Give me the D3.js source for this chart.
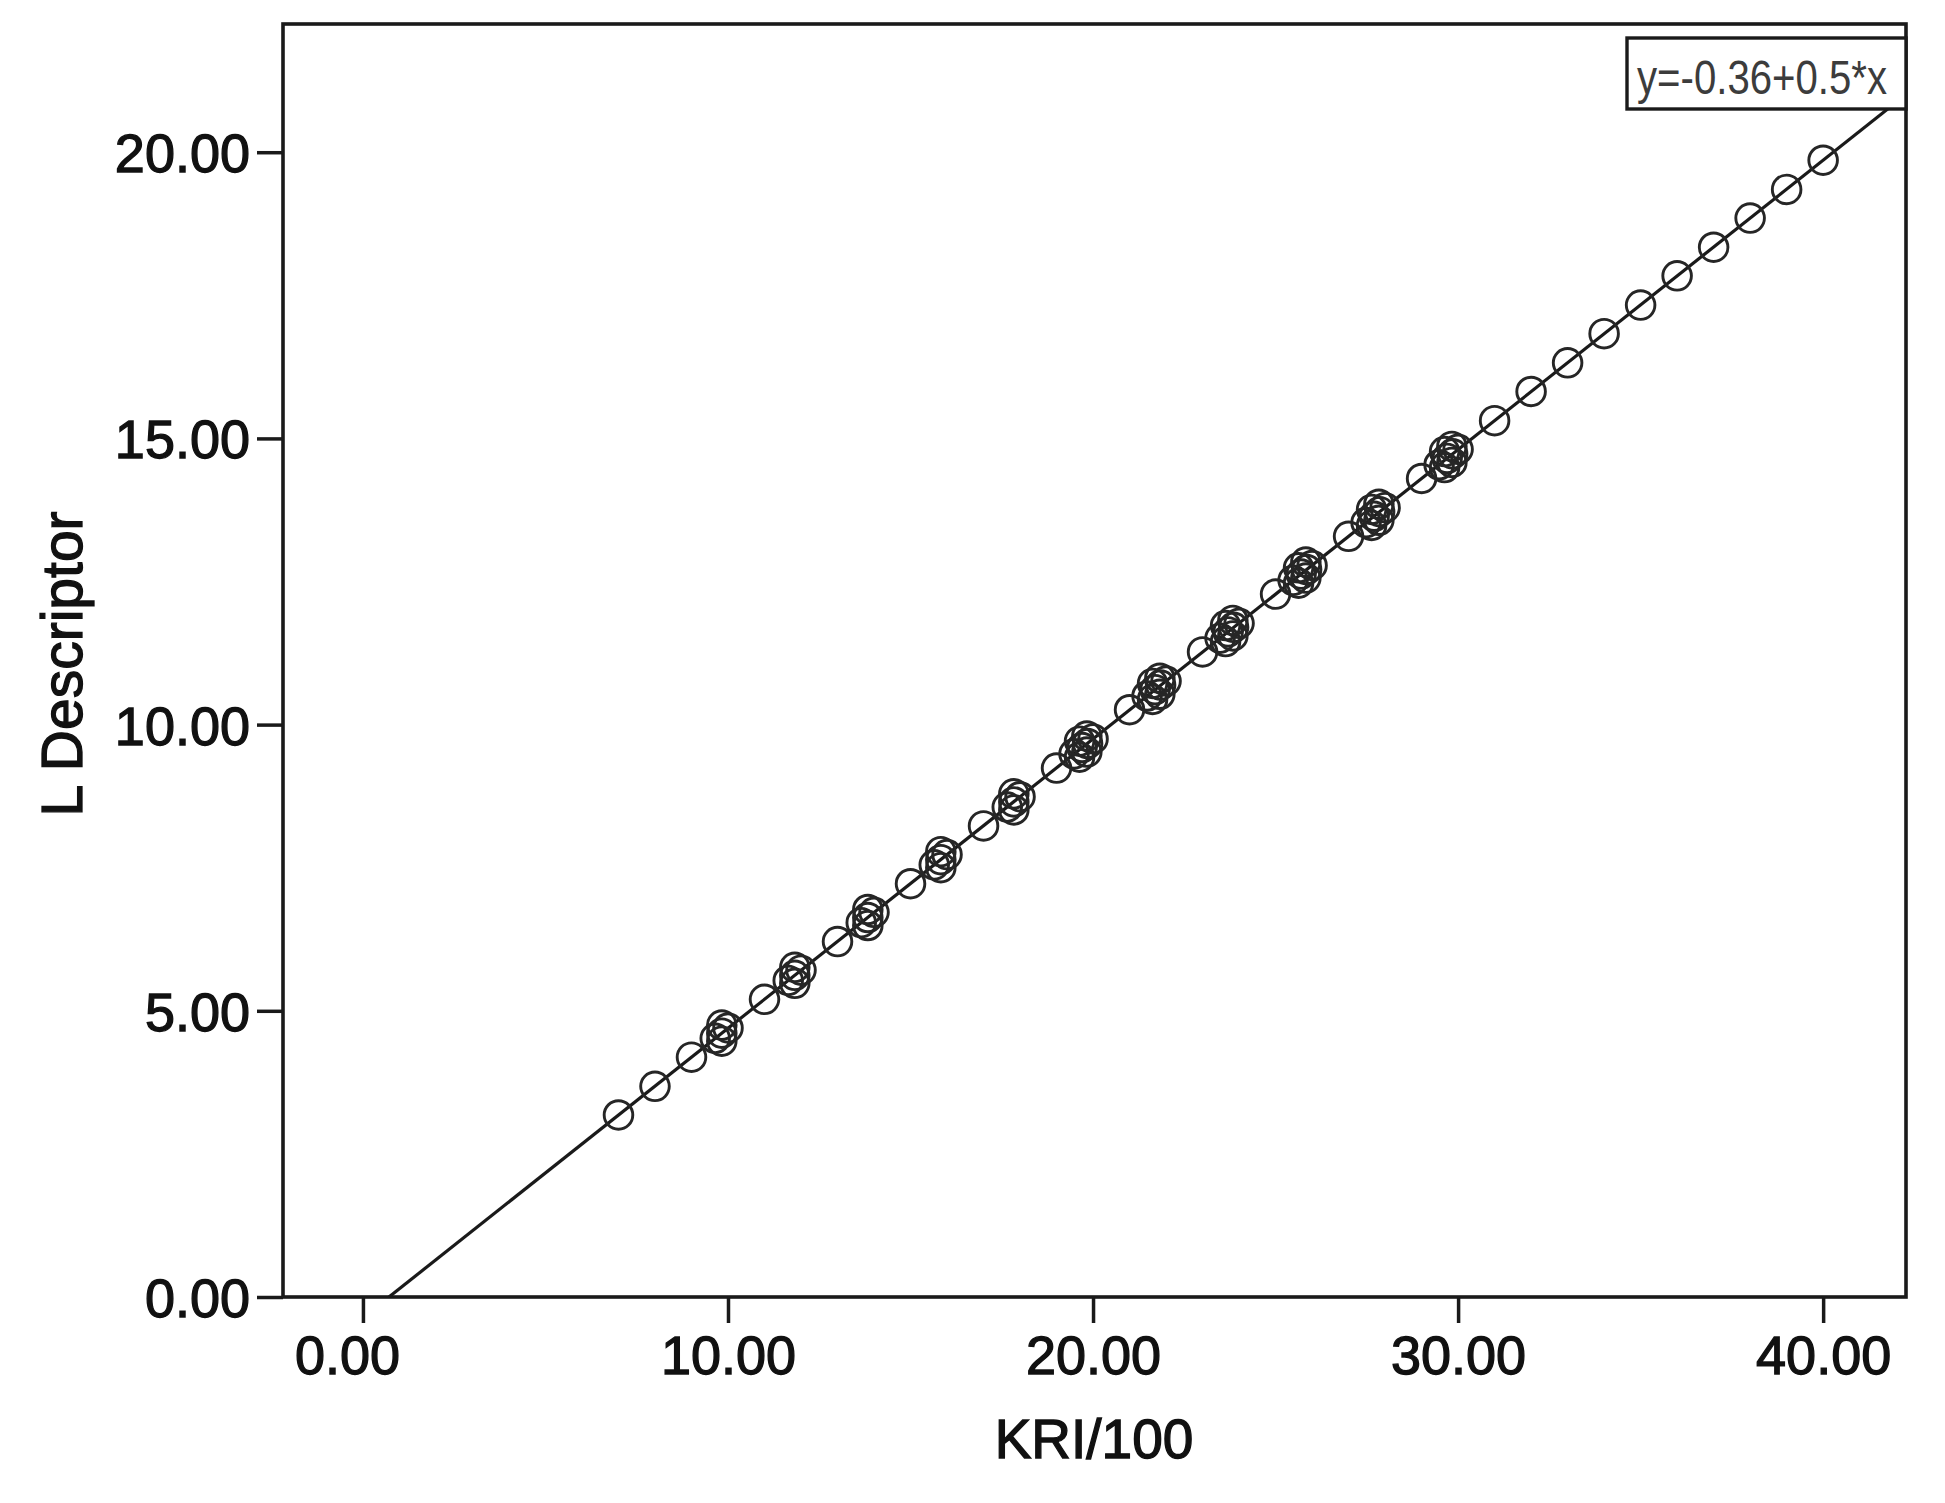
<!DOCTYPE html>
<html>
<head>
<meta charset="utf-8">
<script src="https://cdn.jsdelivr.net/npm/d3@7"></script>
<style>
  html, body { margin: 0; padding: 0; background: #fff; }
  svg { display: block; }
  text { font-family: "Liberation Sans", Arial, sans-serif; }
</style>
</head>
<body>
<script>
// ---------- data ----------
const kri = [
  7.0, 8.0, 9.0,
  9.65, 9.83, 9.83, 9.83, 10.0,
  11.0,
  11.65, 11.83, 11.83, 11.83, 12.0,
  13.0,
  13.65, 13.83, 13.83, 13.83, 14.0,
  15.0,
  15.65, 15.83, 15.83, 15.83, 16.0,
  17.0,
  17.65, 17.83, 17.83, 17.83, 18.0,
  19.0,
  19.48, 19.63, 19.63, 19.7, 19.83, 19.83, 19.85, 20.0,
  21.0,
  21.48, 21.63, 21.63, 21.7, 21.83, 21.83, 21.85, 22.0,
  23.0,
  23.48, 23.63, 23.63, 23.7, 23.83, 23.83, 23.85, 24.0,
  25.0,
  25.48, 25.63, 25.63, 25.7, 25.83, 25.83, 25.85, 26.0,
  27.0,
  27.48, 27.63, 27.63, 27.7, 27.83, 27.83, 27.85, 28.0,
  29.0,
  29.48, 29.63, 29.63, 29.7, 29.83, 29.83, 29.85, 30.0,
  31.0, 32.0, 33.0, 34.0, 35.0, 36.0, 37.0, 38.0, 39.0, 40.0
];
const lDescriptor = [
  3.18, 3.68, 4.19,
  4.52, 4.75, 4.47, 4.61, 4.70,
  5.20,
  5.53, 5.76, 5.48, 5.62, 5.71,
  6.21,
  6.54, 6.77, 6.49, 6.63, 6.72,
  7.22,
  7.55, 7.78, 7.50, 7.64, 7.73,
  8.23,
  8.56, 8.79, 8.51, 8.65, 8.74,
  9.24,
  9.49, 9.71, 9.43, 9.60, 9.80, 9.52, 9.67, 9.75,
  10.26,
  10.50, 10.72, 10.44, 10.61, 10.81, 10.53, 10.69, 10.76,
  11.27,
  11.51, 11.73, 11.45, 11.62, 11.82, 11.55, 11.70, 11.77,
  12.28,
  12.52, 12.74, 12.47, 12.63, 12.84, 12.56, 12.71, 12.78,
  13.29,
  13.53, 13.76, 13.48, 13.64, 13.85, 13.57, 13.72, 13.79,
  14.30,
  14.54, 14.77, 14.49, 14.65, 14.86, 14.58, 14.73, 14.81,
  15.31, 15.82, 16.32, 16.83, 17.33, 17.84, 18.34, 18.85, 19.35, 19.86
];
const xTicks = [0, 10, 20, 30, 40];
const yTicks = [0, 5, 10, 15, 20];
const xTitle = "KRI/100";
const yTitle = "L Descriptor";
// fit line coefficients (label is rounded)
const fitIntercept = -0.36;
const fitSlope = 0.5055;
const fitLabel = "y=-0.36+0.5*x";

// ---------- layout ----------
const W = 1945, H = 1503;
const plot = { left: 283, right: 1906, top: 24, bottom: 1297 };

const svg = d3.select("body").append("svg")
  .attr("width", W).attr("height", H);

const x = d3.scaleLinear().domain([-2.19, 42.27]).range([plot.left, plot.right]);
const y = d3.scaleLinear().domain([0, 22.24]).range([plot.bottom, plot.top]);

const ink = "#1a1a1a";

// axes
const fmt = d3.format(".2f");
const xAxis = svg.append("g")
  .attr("transform", `translate(0,${plot.bottom})`)
  .call(d3.axisBottom(x).tickValues(xTicks).tickFormat(fmt).tickSize(26).tickSizeOuter(0).tickPadding(12));
const yAxis = svg.append("g")
  .attr("transform", `translate(${plot.left},0)`)
  .call(d3.axisLeft(y).tickValues(yTicks).tickFormat(fmt).tickSize(26).tickSizeOuter(0).tickPadding(7));

[xAxis, yAxis].forEach(g => {
  g.select(".domain").remove();
  g.selectAll(".tick line").attr("stroke", ink).attr("stroke-width", 3.5);
  g.selectAll(".tick text")
    .attr("fill", "#111")
    .attr("stroke", "#111").attr("stroke-width", 1.3)
    .style("font-size", "54px")
    .style("font-family", "'Liberation Sans', Arial, sans-serif");
});
xAxis.selectAll(".tick text").attr("dy", "0.72em");
xAxis.selectAll(".tick text").filter(d => d === 0).attr("dx", -16);
yAxis.selectAll(".tick text").attr("dy", "0.36em");

// fit line (clipped to plot)
svg.append("clipPath").attr("id", "clip")
  .append("rect")
  .attr("x", plot.left).attr("y", plot.top)
  .attr("width", plot.right - plot.left).attr("height", plot.bottom - plot.top);

const x0 = -fitIntercept / fitSlope;
const x1 = x.domain()[1];
svg.append("line")
  .attr("clip-path", "url(#clip)")
  .attr("x1", x(x0)).attr("y1", y(fitIntercept + fitSlope * x0))
  .attr("x2", x(x1)).attr("y2", y(fitIntercept + fitSlope * x1))
  .attr("stroke", ink).attr("stroke-width", 3.2);

// points
svg.append("g").selectAll("circle")
  .data(kri.map((k, i) => [k, lDescriptor[i]]))
  .join("circle")
  .attr("cx", d => x(d[0]))
  .attr("cy", d => y(d[1]))
  .attr("r", 14.3)
  .attr("fill", "none")
  .attr("stroke", "#262626")
  .attr("stroke-width", 2.9);

// frame
svg.append("rect")
  .attr("x", plot.left).attr("y", plot.top)
  .attr("width", plot.right - plot.left).attr("height", plot.bottom - plot.top)
  .attr("fill", "none").attr("stroke", ink).attr("stroke-width", 3.6);

// equation label box
const box = { x: 1627, y: 38, w: plot.right - 1627, h: 71 };
svg.append("rect")
  .attr("x", box.x).attr("y", box.y).attr("width", box.w).attr("height", box.h)
  .attr("fill", "#fff").attr("stroke", ink).attr("stroke-width", 3.4);
svg.append("text")
  .attr("x", box.x + 10).attr("y", box.y + 56)
  .attr("textLength", 250).attr("lengthAdjust", "spacingAndGlyphs")
  .style("font-size", "49px")
  .attr("fill", "#3c3c3c")
  .text(fitLabel);

// axis titles
svg.append("text")
  .attr("x", 1094).attr("y", 1458)
  .attr("text-anchor", "middle")
  .style("font-size", "55px")
  .attr("fill", "#111").attr("stroke", "#111").attr("stroke-width", 1.3)
  .text(xTitle);
svg.append("text")
  .attr("transform", `translate(82,664) rotate(-90)`)
  .attr("text-anchor", "middle")
  .style("font-size", "57px")
  .attr("fill", "#111").attr("stroke", "#111").attr("stroke-width", 1.3)
  .text(yTitle);
</script>
</body>
</html>
